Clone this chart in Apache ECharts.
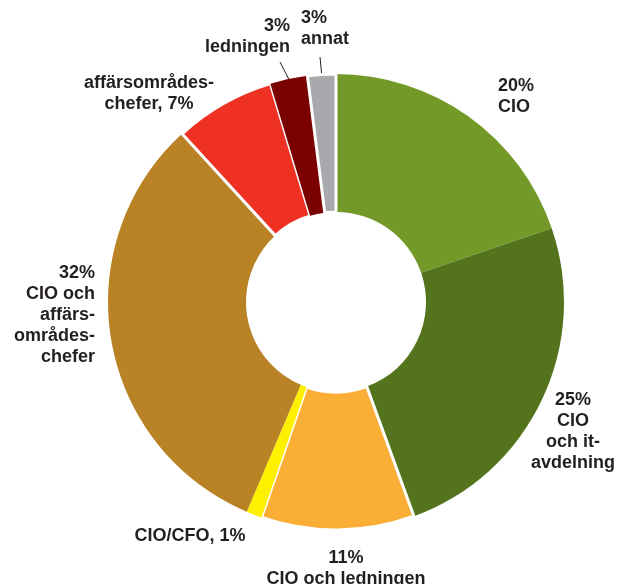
<!DOCTYPE html>
<html>
<head>
<meta charset="utf-8">
<script src="https://cdn.jsdelivr.net/npm/echarts@6/dist/echarts.min.js"></script>
<style>html,body{margin:0;padding:0;background:#fff}#c{width:618px;height:584px}</style>
</head>
<body>
<div id="c"></div>
<script>
var categories = ['CIO', 'CIO och it-avdelning', 'CIO och ledningen', 'CIO/CFO', 'CIO och affärsområdeschefer', 'affärsområdeschefer', 'ledningen', 'annat'];
var values = [19.75, 24.7, 10.85, 1.1, 31.8, 7.15, 2.65, 2.0];
var labelTexts = [
  '20%\nCIO',
  '25%\nCIO\noch it-\navdelning',
  '11%\nCIO och ledningen',
  'CIO/CFO, 1%',
  '32%\nCIO och\naffärs-\nområdes-\nchefer',
  'affärsområdes-\nchefer, 7%',
  '3%\nledningen',
  '3%\nannat'
];
var colors = ['#739a29', '#53741c', '#fbae35', '#fff000', '#b88225', '#ef3124', '#7b0000', '#a7a9ac'];
var borders = [0, 0, 3, 0, 0, 3, 0, 3];
var labelPos = [
  {x: 498, y: 76, align: 'left', pad: [0, 0, 0, 0]},
  {x: 573, y: 390, align: 'center', pad: [0, 0, 0, 0]},
  {x: 346, y: 548, align: 'center', pad: [0, 0, 0, 0]},
  {x: 190, y: 526, align: 'center', pad: [0, 0, 0, 0]},
  {x: 95, y: 263, align: 'right', pad: [0, 0, 0, 0]},
  {x: 149, y: 73, align: 'center', pad: [0, 0, 0, 0]},
  {x: 355, y: 16, align: 'right', pad: [0, 65, 4, 0]},
  {x: 291, y: 8, align: 'left', pad: [0, 0, 7, 10]}
];
var showLine = [false, false, false, false, false, false, true, true];

var chart = echarts.init(document.getElementById('c'), null, {renderer: 'canvas'});
var data = categories.map(function (name, i) {
  return {
    name: name,
    value: values[i],
    itemStyle: {color: colors[i], borderColor: '#ffffff', borderWidth: borders[i]},
    label: {formatter: labelTexts[i], padding: labelPos[i].pad},
    labelLine: {show: showLine[i]}
  };
});
chart.setOption({
  animation: false,
  series: [{
    type: 'pie',
    center: [336, 302],
    radius: [90, 228],
    startAngle: 90,
    clockwise: true,
    avoidLabelOverlap: false,
    label: {
      show: true,
      position: 'outside',
      color: '#231f20',
      fontFamily: 'Liberation Sans, Arial, sans-serif',
      fontWeight: 'bold',
      fontSize: 18,
      lineHeight: 21
    },
    labelLine: {show: false, length: 6, length2: 0, lineStyle: {color: '#231f20', width: 1, lineDash: [0, 4, 11, 100]}},
    labelLayout: function (p) {
      var lp = labelPos[p.dataIndex];
      return {x: lp.x, y: lp.y, align: lp.align, verticalAlign: 'top'};
    },
    data: data
  }]
});
</script>
</body>
</html>
